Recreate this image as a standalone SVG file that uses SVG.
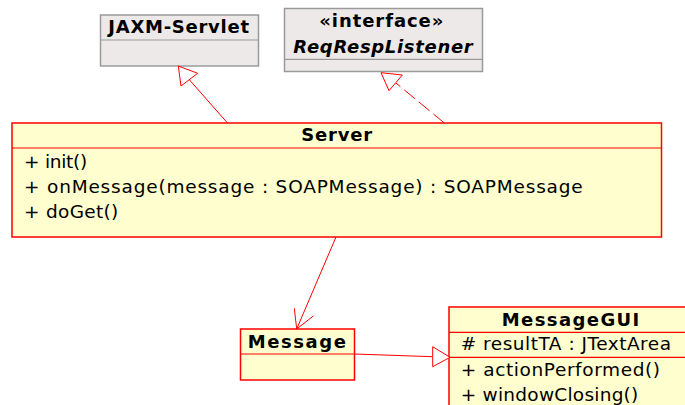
<svg xmlns="http://www.w3.org/2000/svg" width="685" height="405" viewBox="0 0 685 405">
  <style>
    .cls { fill: #FEFECE; stroke: #FF0000; stroke-width: 1.5; }
    .ext { fill: #ECE9E8; stroke: #9A9A9A; stroke-width: 1.5; }
    .div { stroke: #FF0000; stroke-width: 1.2; }
    .divg { stroke: #9A9A9A; stroke-width: 1.2; }
    .title { font-family: "DejaVu Sans", sans-serif; font-size: 18px; font-weight: bold; fill: #000; }
    .member { font-family: "DejaVu Sans", sans-serif; font-size: 18.5px; fill: #000; }
    .edge { stroke: #FF0000; stroke-width: 1; fill: none; }
    .head { stroke: #FF0000; stroke-width: 1; fill: #FFFFFF; }
  </style>

  <!-- superclass -->
  <g id="jaxm-servlet">
    <rect class="ext" x="100.5" y="15" width="158" height="51"/>
    <line class="divg" x1="100.5" y1="40" x2="258.5" y2="40"/>
    <text class="title" x="108.3" y="33.3" textLength="140.7">JAXM-Servlet</text>
  </g>

  <!-- interface -->
  <g id="req-resp-listener">
    <rect class="ext" x="284.5" y="8.5" width="198" height="63"/>
    <line class="divg" x1="284.5" y1="59.3" x2="482.5" y2="59.3"/>
    <text class="title" x="319.3" y="27.3" textLength="124">«interface»</text>
    <text class="title" x="293.3" y="52.7" textLength="179.4" font-style="italic">ReqRespListener</text>
  </g>

  <!-- main class -->
  <g id="server">
    <rect class="cls" x="12" y="123" width="649.5" height="114"/>
    <line class="div" x1="12" y1="148" x2="661.5" y2="148"/>
    <text class="title" x="301.2" y="141" textLength="71">Server</text>
    <text class="member" x="24" y="167.5" textLength="63.3">+ init()</text>
    <text class="member" x="24" y="192.5" textLength="558.7">+ onMessage(message : SOAPMessage) : SOAPMessage</text>
    <text class="member" x="24" y="217.5" textLength="94.3">+ doGet()</text>
  </g>

  <g id="message">
    <rect class="cls" x="240.5" y="329" width="114" height="51"/>
    <line class="div" x1="240.5" y1="354" x2="354.5" y2="354"/>
    <text class="title" x="247.7" y="348.3" textLength="98.3">Message</text>
  </g>

  <g id="message-gui">
    <rect class="cls" x="449" y="307" width="243" height="110"/>
    <line class="div" x1="449" y1="332.3" x2="692" y2="332.3"/>
    <line class="div" x1="449" y1="357.3" x2="692" y2="357.3"/>
    <text class="title" x="501.7" y="325.7" textLength="137.6">MessageGUI</text>
    <text class="member" x="460.7" y="350" textLength="210.3"># resultTA : JTextArea</text>
    <text class="member" x="460.7" y="376" textLength="199.3">+ actionPerformed()</text>
    <text class="member" x="460.7" y="401" textLength="177.6">+ windowClosing()</text>
  </g>

  <!-- relations -->
  <g id="connectors">
    <!-- Server extends JAXM-Servlet -->
    <line class="edge" x1="227.5" y1="123" x2="189.3" y2="79.7"/>
    <polygon class="head" points="178.3,66 181,86 197.7,73.3"/>
    <!-- Server implements ReqRespListener -->
    <line class="edge" x1="444.3" y1="123" x2="395.7" y2="82.8" stroke-dasharray="14,5"/>
    <polygon class="head" points="381,72.7 389,90.7 402.3,75"/>
    <!-- Server uses Message -->
    <line class="edge" x1="336" y1="237" x2="296.7" y2="329"/>
    <polyline class="edge" points="294.3,308.3 296.7,329 313.3,316"/>
    <!-- Message extends MessageGUI -->
    <line class="edge" x1="354.5" y1="354" x2="432.7" y2="356.7"/>
    <polygon class="head" points="450,357.3 432.7,346.7 432.7,366.7"/>
  </g>
</svg>
